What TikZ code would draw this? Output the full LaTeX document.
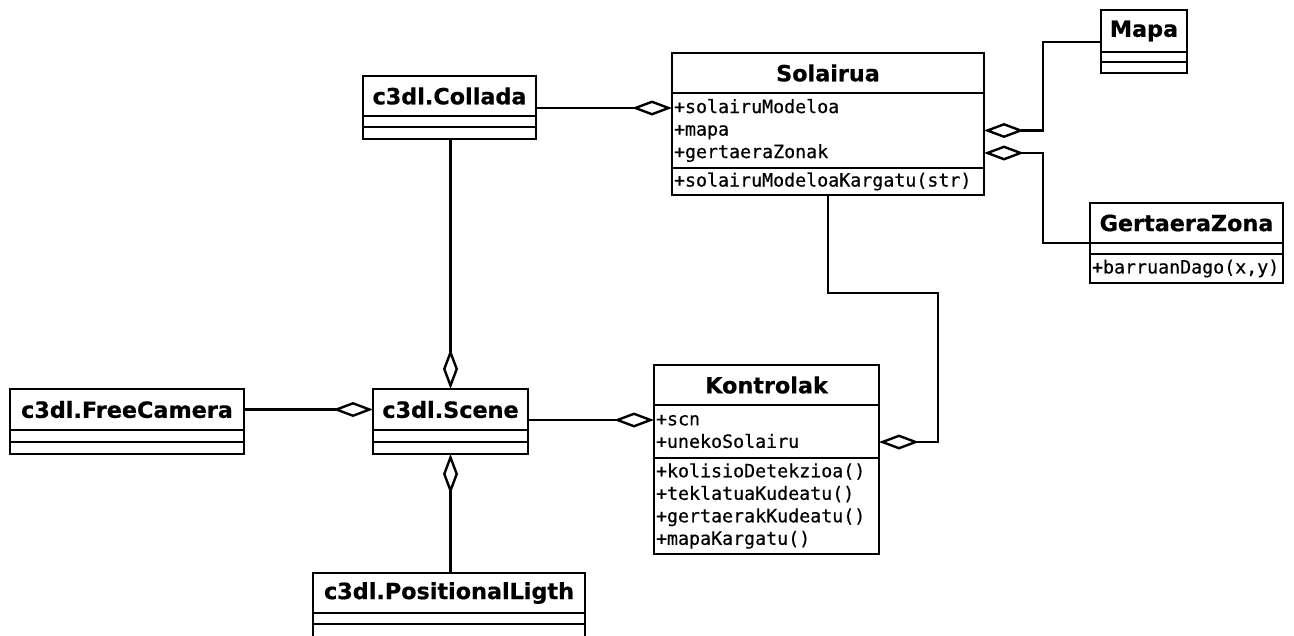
\documentclass[tikz,border=0pt]{standalone}
\usepackage{fontspec}
\newfontfamily\umlTitle[FakeBold=0.6]{DejaVu Sans}
\newfontfamily\umlMono[FakeBold=0.5]{DejaVu Sans Mono}
\usetikzlibrary{arrows.meta}

\begin{document}
\begin{tikzpicture}[x=1pt,y=-1pt,
  classbox/.style={draw, line width=2.6pt, inner sep=0pt, outer sep=0pt},
  classname/.style={classbox, font=\umlTitle\bfseries\fontsize{22.3}{26}\selectfont, minimum height=40pt},
  compart/.style={classbox, font=\umlMono\fontsize{18.3}{22.5}\selectfont, align=left, inner xsep=2pt, anchor=north},
  agg/.style={line width=2.4pt, -{Diamond[open, length=40pt, width=15pt]}},
]
\useasboundingbox (0,0) rectangle (1294,635);
\fill[white] (0,0) rectangle (1294,635);
\clip (0,0) rectangle (1294,635);

% Solairua
\node[classname, minimum width=312pt] (solt) at (828,73) {Solairua};
\node[compart, text width=308pt, minimum height=75pt] (sola) at (solt.south) {+solairuModeloa\\+mapa\\+gertaeraZonak};
\node[compart, text width=308pt, minimum height=27pt] (solo) at (sola.south) {+solairuModeloaKargatu(str)};

% Mapa
\node[classname, minimum width=86pt, minimum height=42pt] (mapat) at (1144,31) {Mapa};
\node[compart, text width=82pt, minimum height=10pt] (mapaa) at (mapat.south) {};
\node[compart, text width=82pt, minimum height=11pt] (mapao) at (mapaa.south) {};

% GertaeraZona
\node[classname, minimum width=193pt] (gzt) at (1186.5,223) {GertaeraZona};
\node[compart, text width=189pt, minimum height=11pt] (gza) at (gzt.south) {};
\node[compart, text width=189pt, minimum height=29pt] (gzo) at (gza.south) {+barruanDago(x,y)};

% c3dl.Collada
\node[classname, minimum width=173pt] (colt) at (449.5,96) {c3dl.Collada};
\node[compart, text width=169pt, minimum height=11pt] (cola) at (colt.south) {};
\node[compart, text width=169pt, minimum height=12pt] (colo) at (cola.south) {};

% c3dl.FreeCamera
\node[classname, minimum width=234pt, minimum height=41pt] (fct) at (127,409.5) {c3dl.FreeCamera};
\node[compart, text width=230pt, minimum height=12pt] (fca) at (fct.south) {};
\node[compart, text width=230pt, minimum height=12pt] (fco) at (fca.south) {};

% c3dl.Scene
\node[classname, minimum width=155pt, minimum height=41pt] (sct) at (450.5,409.5) {c3dl.Scene};
\node[compart, text width=151pt, minimum height=12pt] (sca) at (sct.south) {};
\node[compart, text width=151pt, minimum height=12pt] (sco) at (sca.south) {};

% Kontrolak
\node[classname, minimum width=225pt] (kont) at (766.5,385) {Kontrolak};
\node[compart, text width=221pt, minimum height=53pt] (kona) at (kont.south) {+scn\\+unekoSolairu};
\node[compart, text width=221pt, minimum height=96pt] (kono) at (kona.south) {+kolisioDetekzioa()\\+teklatuaKudeatu()\\+gertaerakKudeatu()\\+mapaKargatu()};

% c3dl.PositionalLigth
\node[classname, minimum width=272pt] (plt) at (449,593) {c3dl.PositionalLigth};
\node[compart, text width=268pt, minimum height=11pt] (pla) at (plt.south) {};
\node[compart, text width=268pt, minimum height=20pt] (plo) at (pla.south) {};

% attachment points on the attribute rows
\coordinate (solR1) at ([yshift=22.5pt]sola.west);
\coordinate (solR2) at (sola.east);
\coordinate (solR3) at ([yshift=-22.5pt]sola.east);
\coordinate (konL1) at ([yshift=11.5pt]kona.west);
\coordinate (konR2) at ([yshift=-10.5pt]kona.east);
\coordinate (mapaIn) at ([yshift=-11pt]mapat.west);

% aggregations
\draw[agg] (colt.east |- solR1) -- (solR1);
\draw[agg] (mapaIn) -- ++(-58,0) |- (solR2);
\draw[agg] (gzt.south west) -- ++(-47,0) |- (solR3);
\draw[agg] (solo.south) -- ++(0,98) -- ++(110,0) |- (konR2);
\draw[agg] (sct.east |- konL1) -- (konL1);
\draw[agg] (fct.east) -- (sct.west);
\draw[agg] (sct.north |- colo.south) -- (sct.north);
\draw[agg] (sco.south |- plt.north) -- (sco.south);
\end{tikzpicture}
\end{document}
